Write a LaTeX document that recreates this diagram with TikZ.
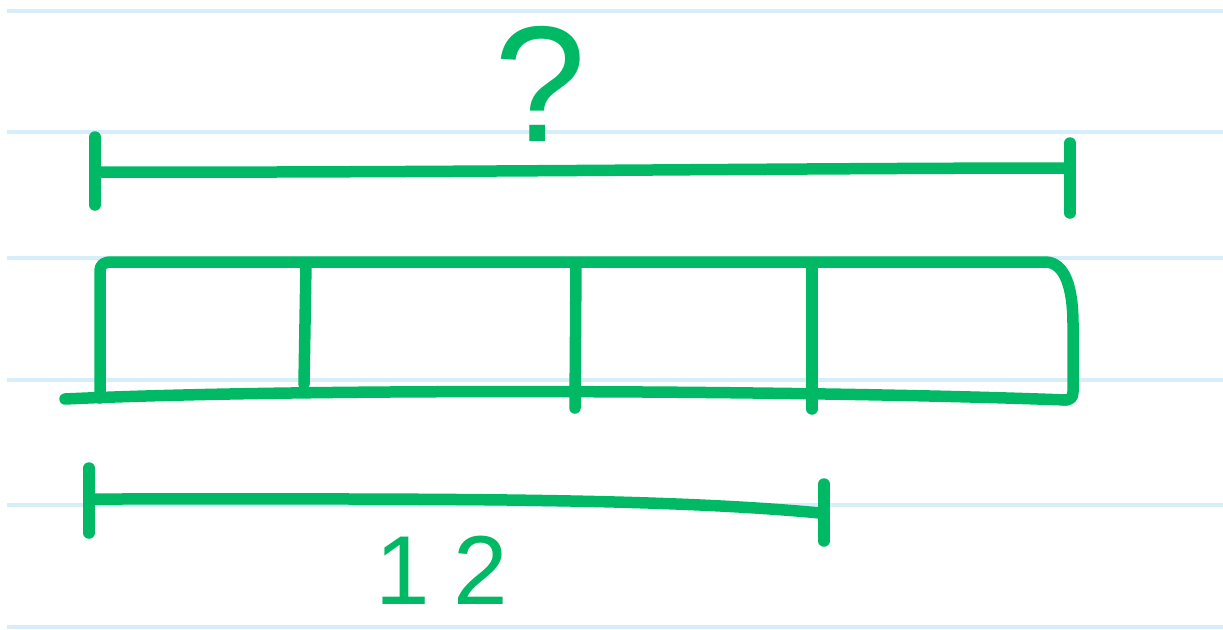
\documentclass[tikz,border=0pt]{standalone}
\usepackage{fontspec}
\setmainfont{Liberation Sans}
\definecolor{pen}{RGB}{0,185,100}
\definecolor{ruled}{RGB}{214,238,248}
\tikzset{
  ink/.style={draw=pen, line width=11.5pt, line cap=round, line join=round},
  rule/.style={draw=ruled, line width=3.5pt},
  handtext/.style={text=pen, inner sep=0pt}
}
\begin{document}
\begin{tikzpicture}[x=1pt,y=-1pt]
\useasboundingbox[fill=white] (0,0) rectangle (1223,629);
% ruled paper lines
\foreach \yy in {11,132,258,380,505,627}{
  \draw[rule] (7,\yy) -- (1223,\yy);
}
% question mark
\node[handtext, anchor=base, font=\fontsize{165}{165}\selectfont] (q) at (540,141) {?};
% top bracket
\coordinate (tl1) at (95,137);
\coordinate (tl2) at (95,205);
\coordinate (tr1) at (1070,143);
\coordinate (tr2) at (1070,213);
\draw[ink] (tl1) -- (tl2);
\draw[ink] (tr1) -- (tr2);
\draw[ink] (95,172) .. controls (400,173) and (800,168) .. (1070,168);
% bar model
\draw[ink] (100,398) -- (100,272) .. controls (100,264) and (104,262) .. (112,262)
  -- (1045,262) .. controls (1066,262) and (1073,290) .. (1073,325) -- (1073,392)
  .. controls (1073,398) and (1070,400) .. (1064,400);
\draw[ink] (65,399) .. controls (300,388) and (800,390) .. (1066,400);
\draw[ink] (306,264) -- (304,384);
\draw[ink] (576,264) -- (575,408);
\draw[ink] (812,264) -- (812,409);
% bottom bracket
\draw[ink] (89,468) -- (89,533);
\draw[ink] (824,484) -- (824,541);
\draw[ink] (89,499) .. controls (400,499) and (650,497) .. (820,513);
\node[handtext, anchor=base, font=\fontsize{98}{98}\selectfont] (twelve) at (442,604) {1\kern24pt 2};
\end{tikzpicture}
\end{document}
